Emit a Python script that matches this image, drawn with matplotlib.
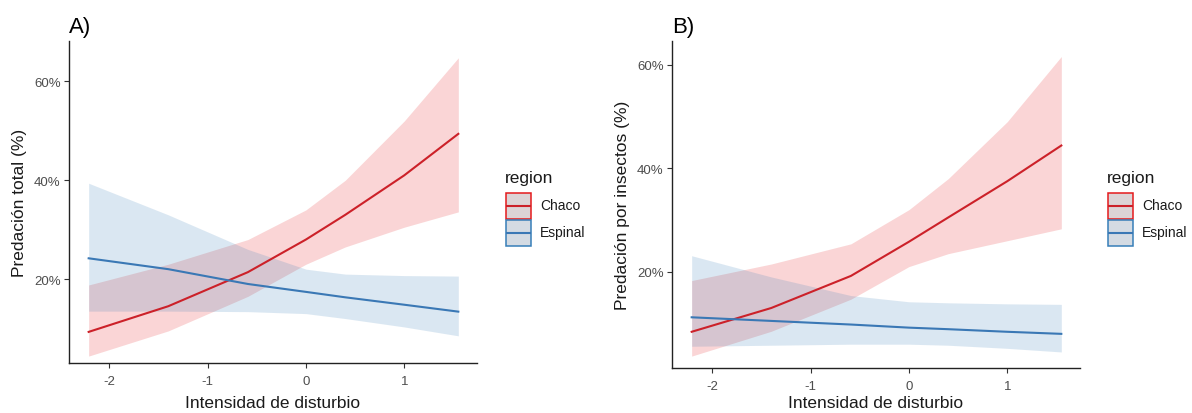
import matplotlib
matplotlib.use("Agg")
import matplotlib.pyplot as plt
from matplotlib.patches import Rectangle
from matplotlib.lines import Line2D
from matplotlib.ticker import FuncFormatter

plt.rcParams['font.family'] = ['Liberation Sans', 'DejaVu Sans']

# ---- data (percent) ----
x_dist = [-2.21, -1.4, -0.59, 0.0, 0.4, 1.0, 1.55]

# Panel A: Predación total
a_chaco_fit = [9.3, 14.5, 21.4, 28.0, 33.0, 41.0, 49.4]
a_chaco_lo = [4.4, 9.5, 16.5, 23.0, 26.5, 30.5, 33.6]
a_chaco_hi = [18.8, 23.0, 28.0, 34.0, 40.0, 52.0, 64.8]
a_esp_fit = [24.2, 22.0, 19.0, 17.4, 16.3, 14.8, 13.4]
a_esp_lo = [13.5, 13.5, 13.4, 13.0, 12.0, 10.3, 8.5]
a_esp_hi = [39.4, 33.0, 26.0, 22.0, 21.0, 20.7, 20.6]

# Panel B: Predación por insectos
b_chaco_fit = [8.4, 13.0, 19.2, 25.8, 30.5, 37.5, 44.4]
b_chaco_lo = [3.7, 8.5, 14.7, 21.0, 23.5, 26.0, 28.3]
b_chaco_hi = [18.3, 21.5, 25.4, 32.0, 38.0, 49.0, 61.6]
b_esp_fit = [11.2, 10.5, 9.8, 9.2, 8.9, 8.4, 8.0]
b_esp_lo = [5.6, 5.8, 6.0, 6.0, 5.8, 5.2, 4.5]
b_esp_hi = [23.1, 19.0, 15.4, 14.2, 14.0, 13.8, 13.7]

regions = ["Chaco", "Espinal"]
colors = {"Chaco": "#E41A1C", "Espinal": "#377EB8"}
line_colors = {"Chaco": "#CC2129", "Espinal": "#3A78B5"}
key_fill = {"Chaco": "#DCD4D6", "Espinal": "#D4DBE3"}

xticks = [-2, -1, 0, 1]
yticks = [20, 40, 60]

W, H = 1192, 414
fig = plt.figure(figsize=(W / 100, H / 100), dpi=100)


def fx(px):
    return px / W


def fy(py):
    return (H - py) / H


axA = fig.add_axes([fx(69), fy(364), fx(477) - fx(69), fy(42) - fy(364)])
axB = fig.add_axes([fx(672), fy(369), fx(1080) - fx(672), fy(42) - fy(369)])

panels = [
    (axA, "A)", "Predación total (%)",
     {"Chaco": (a_chaco_fit, a_chaco_lo, a_chaco_hi), "Espinal": (a_esp_fit, a_esp_lo, a_esp_hi)},
     (3.0, 68.2), 505, 6.0),
    (axB, "B)", "Predación por insectos (%)",
     {"Chaco": (b_chaco_fit, b_chaco_lo, b_chaco_hi), "Espinal": (b_esp_fit, b_esp_lo, b_esp_hi)},
     (1.4, 64.6), 1107, 2.5),
]

for ax, lab, ylab, data, ylim, legx, xlpad in panels:
    for r in regions:
        fit, lo, hi = data[r]
        ax.fill_between(x_dist, lo, hi, color=colors[r], alpha=0.18, linewidth=0)
    for r in regions:
        fit, lo, hi = data[r]
        ax.plot(x_dist, fit, color=line_colors[r], linewidth=1.5)
    ax.set_xlim(-2.41, 1.74)
    ax.set_ylim(*ylim)
    ax.set_xticks(xticks)
    ax.set_yticks(yticks)
    ax.yaxis.set_major_formatter(FuncFormatter(lambda v, p: f"{v:.0f}%"))
    ax.xaxis.set_major_formatter(FuncFormatter(lambda v, p: f"{v:.0f}"))
    for s in ["top", "right"]:
        ax.spines[s].set_visible(False)
    for s in ["left", "bottom"]:
        ax.spines[s].set_linewidth(1.0)
        ax.spines[s].set_color("#222222")
    ax.tick_params(axis="both", direction="out", length=3.5, width=0.8, color="#333333",
                   labelsize=9.5, labelcolor="#4D4D4D", pad=2.5)
    ax.tick_params(axis="x", pad=5)
    ax.set_xlabel("Intensidad de disturbio", fontsize=12.5, color="#1a1a1a", labelpad=xlpad)
    ax.set_ylabel(ylab, fontsize=12.5, color="#1a1a1a", labelpad=5)
    ax.text(ax.get_position().x0, fy(33), lab, transform=fig.transFigure,
            fontsize=16, ha="left", va="baseline")

    # legend (drawn as figure artists, ggplot style)
    fig.text(fx(legx), fy(183), "region", fontsize=12.5, ha="left", va="baseline",
             color="#1a1a1a")
    for i, r in enumerate(regions):
        top = 193 + i * 27
        rect = Rectangle((fx(legx + 0.5), fy(top + 26.5)), fx(25.5), fy(top + 0.5) - fy(top + 26.5),
                         transform=fig.transFigure, facecolor=key_fill[r],
                         edgecolor=colors[r], linewidth=1.1)
        fig.add_artist(rect)
        ln = Line2D([fx(legx + 1.5), fx(legx + 25)], [fy(top + 13.5)] * 2,
                    transform=fig.transFigure, color=line_colors[r], linewidth=1.5)
        fig.add_artist(ln)
        fig.text(fx(legx + 35), fy(top + 13.5), r, fontsize=10, ha="left", va="center",
                 color="#1a1a1a")

fig.savefig("out.png", dpi=100)
